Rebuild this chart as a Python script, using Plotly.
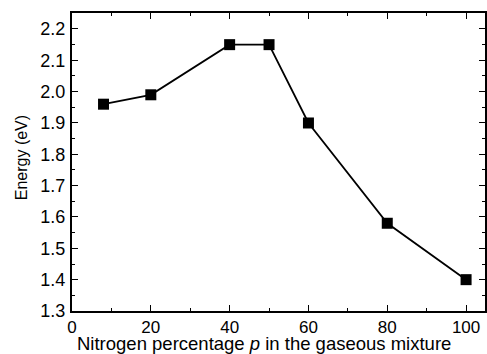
import plotly.graph_objects as go

nitrogen_pct = [8, 20, 40, 50, 60, 80, 100]
energy_ev = [1.96, 1.99, 2.15, 2.15, 1.90, 1.58, 1.40]

x_ticks = [0, 20, 40, 60, 80, 100]
y_ticks = [1.3, 1.4, 1.5, 1.6, 1.7, 1.8, 1.9, 2.0, 2.1, 2.2]
y_tick_labels = ["1.3", "1.4", "1.5", "1.6", "1.7", "1.8", "1.9", "2.0", "2.1", "2.2"]
x_title = "Nitrogen percentage <i>p</i> in the gaseous mixture"
y_title = "Energy (eV)"

FONT = "Liberation Sans, Arial, Helvetica, sans-serif"

fig = go.Figure()
fig.add_trace(go.Scatter(
    x=nitrogen_pct, y=energy_ev, mode="lines+markers",
    line=dict(color="black", width=1.8),
    marker=dict(symbol="square", size=11, color="black"),
    showlegend=False,
))

axis_common = dict(
    showline=True, linecolor="black", linewidth=2, mirror="allticks",
    ticks="inside", ticklen=6, tickwidth=1.3, tickcolor="black",
    showgrid=False, zeroline=False,
    tickfont=dict(family=FONT, size=18, color="black"),
)

fig.update_layout(
    width=487, height=354,
    margin=dict(l=72, r=0, t=13, b=43),
    paper_bgcolor="white", plot_bgcolor="white",
    font=dict(family=FONT, size=18, color="black"),
    xaxis=dict(
        range=[0, 104.8], tickvals=x_ticks,
        minor=dict(ticks="inside", ticklen=3, tickwidth=1, tickcolor="black", dtick=10, tick0=0),
        ticklabelstandoff=0,
        **{**axis_common, "tickfont": dict(family=FONT, size=17, color="black")},
    ),
    yaxis=dict(
        range=[1.3, 2.251], tickvals=y_ticks, ticktext=y_tick_labels,
        minor=dict(ticks="inside", ticklen=3, tickwidth=1, tickcolor="black", dtick=0.05, tick0=1.3),
        ticklabelstandoff=1,
        **axis_common,
    ),
    annotations=[
        dict(text=x_title, xref="paper", yref="paper", x=(265 - 72) / 415, y=(311 - 355) / 298,
             xanchor="center", yanchor="bottom", showarrow=False, borderpad=0,
             font=dict(family=FONT, size=18.5, color="black")),
        dict(text=y_title, xref="paper", yref="paper", x=(21 - 72) / 415, y=(311 - 158) / 298,
             xanchor="center", yanchor="middle", showarrow=False, textangle=-90,
             font=dict(family=FONT, size=16, color="black")),
    ],
)

fig.write_html("out.html")
